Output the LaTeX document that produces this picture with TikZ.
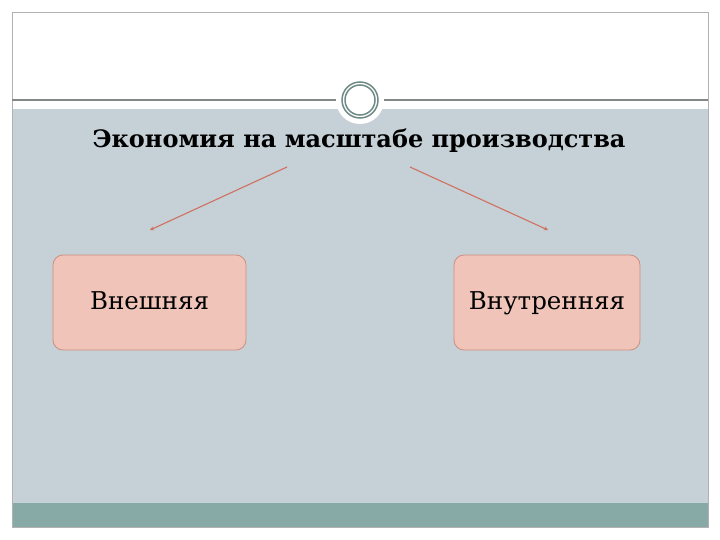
\documentclass[tikz,border=0pt]{standalone}
\usepackage{fontspec}
\setmainfont{DejaVu Serif}
\usetikzlibrary{arrows.meta}
\definecolor{bg}{HTML}{C5D1D7}
\definecolor{teal}{HTML}{88AAA6}
\definecolor{boxf}{HTML}{F0C4B8}
\definecolor{boxd}{HTML}{D08E80}
\definecolor{arr}{HTML}{D0705E}
\definecolor{ring}{HTML}{6F8A86}
\begin{document}
\begin{tikzpicture}[x=1pt,y=-1pt,
  box/.style={draw=boxd,line width=0.8pt,fill=boxf,rounded corners=10pt,minimum height=95pt,text height=18pt,text depth=5pt,font=\fontsize{24.5}{28}\selectfont},
  conn/.style={draw=arr,line width=1.1pt,-{Stealth[length=4pt,width=4pt]}}]
\useasboundingbox (0,0) rectangle (720,540);
\fill[white] (0,0) rectangle (720,540);
\fill[bg] (12,109) rectangle (708,503);
\fill[teal] (12,503) rectangle (708,527);
\draw[gray!60,line width=0.6pt] (12,12) rectangle (708,527);
\draw[gray!80!teal,line width=1.2pt] (12,100) -- (708,100);
\fill[white] (360,100) circle (24);
\draw[ring,line width=1.5pt] (360,100) circle (18);
\draw[ring,line width=1.5pt] (360,100) circle (15);
\node[font=\bfseries\fontsize{24}{28}\selectfont] (t) at (359,141) {Экономия на масштабе производства};
\node[box,minimum width=193pt] (a) at (149.5,302.5) {Внешняя};
\node[box,minimum width=186pt] (b) at (547,302.5) {Внутренняя};
\coordinate (s1) at (287,167); \coordinate (e1) at (150,230);
\coordinate (s2) at (410,167); \coordinate (e2) at (548,230);
\draw[conn] (s1) -- (e1);
\draw[conn] (s2) -- (e2);
\end{tikzpicture}
\end{document}
